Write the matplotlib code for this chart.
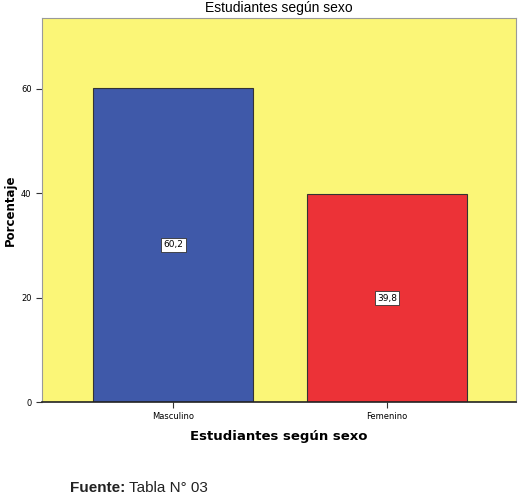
import matplotlib.pyplot as plt

# Datos
categorias = ["Masculino", "Femenino"]
porcentajes = [60.2, 39.8]
etiquetas = ["60,2", "39,8"]
colores = ["#3f59a9", "#ec3237"]

fig = plt.figure(figsize=(5.24, 5.0), dpi=100)
ax = fig.add_axes([42 / 524, 1 - 402 / 500, 474 / 524, 384 / 500])

ax.set_facecolor("#fbf677")
x = list(range(len(categorias)))
ax.bar(x, porcentajes, width=0.75, color=colores, edgecolor="#333333", linewidth=0.8)

for xi, v, lab in zip(x, porcentajes, etiquetas):
    ax.text(xi, v / 2, lab, ha="center", va="center", fontsize=6.5,
            bbox=dict(boxstyle="square,pad=0.25", fc="white", ec="#333333", lw=0.6))

ax.set_xlim(-0.615, 1.605)
ax.set_ylim(0, 73.6)
ax.set_yticks([0, 20, 40, 60])
ax.set_xticks(x)
ax.set_xticklabels(categorias, fontsize=6)
ax.tick_params(axis="y", labelsize=6, length=4, width=0.8, color="#333333")
ax.tick_params(axis="x", length=4, width=0.8, color="#333333")

for side in ["top", "right"]:
    ax.spines[side].set_color("#9a9a9a")
ax.spines["left"].set_color("#9a9a9a")
ax.spines["bottom"].set_color("#222222")
ax.spines["bottom"].set_linewidth(1.2)

ax.set_title("Estudiantes según sexo", fontsize=10, pad=4, family="Liberation Sans")
ax.set_xlabel("Estudiantes según sexo", fontsize=9.5, fontweight="bold", labelpad=6)
ax.set_ylabel("Porcentaje", fontsize=8.5, fontweight="bold")
ax.yaxis.set_label_coords(-0.052, 0.5)

# Nota de fuente al pie
t1 = fig.text(70 / 524, 1 - 488 / 500, "Fuente:", fontsize=11, fontweight="bold",
              family="Liberation Sans", va="center", color="#222222")
fig.add_artist(plt.Annotation(" Tabla N° 03", xy=(1, 0.5), xycoords=t1, va="center",
                              fontsize=11, family="Liberation Sans", color="#222222"))

fig.savefig("out.png", dpi=100)
